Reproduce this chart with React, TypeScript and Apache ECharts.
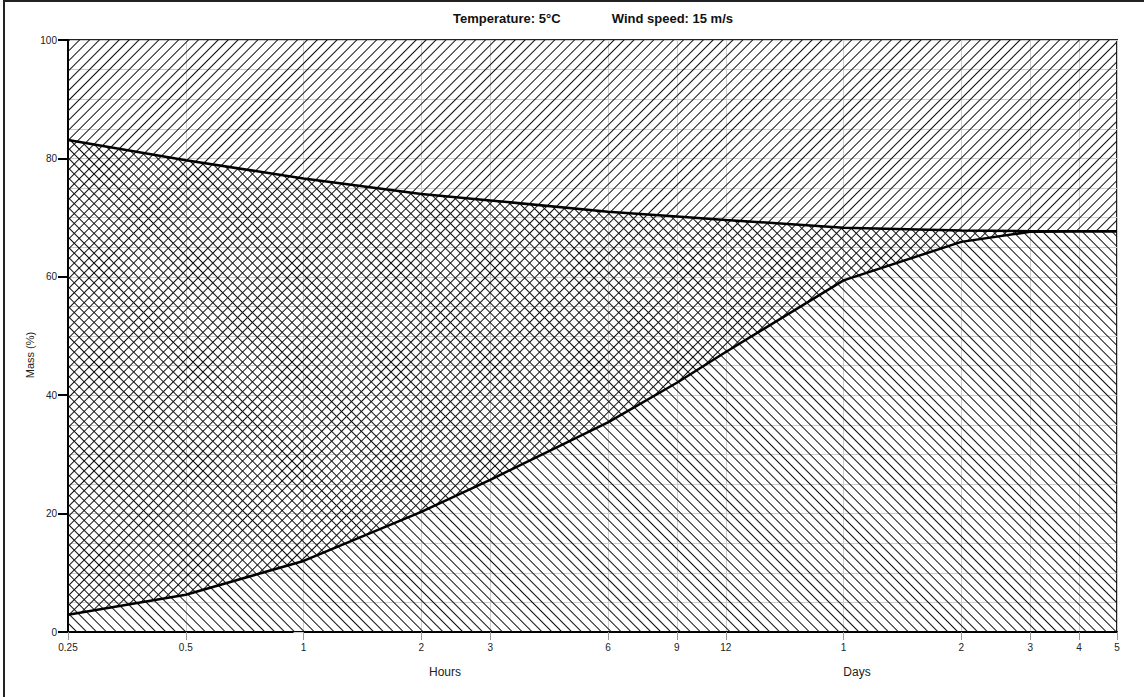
import React, { useEffect, useRef } from 'react';
import * as echarts from 'echarts';

// Elapsed time in hours (x), mass in percent (y)
const hours = [0.25, 0.5, 1, 2, 3, 6, 9, 12, 24, 48, 72, 96, 120];
const upperMass = [83.1, 79.7, 76.6, 74.0, 72.9, 71.0, 70.2, 69.6, 68.3, 67.8, 67.7, 67.7, 67.7];
const lowerMass = [2.9, 6.3, 12.0, 20.3, 25.7, 35.4, 42.1, 47.3, 59.4, 65.9, 67.6, 67.7, 67.7];
const tickHours = [0.25, 0.5, 1, 2, 3, 6, 9, 12, 24, 48, 72, 96, 120];
const titleLeft = 'Temperature: 5°C';
const titleRight = 'Wind speed: 15 m/s';

const FONT = '"Liberation Sans", Arial, sans-serif';

function hatch(rotation: number) {
  return {
    symbol: 'rect',
    symbolSize: 1,
    color: '#111',
    backgroundColor: 'rgba(0,0,0,0)',
    dashArrayX: [1, 0],
    dashArrayY: [1, 6],
    rotation,
  };
}

export default function App() {
  const ref = useRef<HTMLDivElement>(null);
  useEffect(() => {
    const chart = echarts.init(ref.current!, null, { renderer: 'svg' });
    const lx = (h: number) => Math.log2(h);
    const upperData = hours.map((h, i) => [lx(h), upperMass[i]]);
    const lowerData = hours.map((h, i) => [lx(h), lowerMass[i]]);
    const tickVals = tickHours.map(lx);
    const fmtX = (v: number) => {
      const h = Math.round(Math.pow(2, v) * 100) / 100;
      return h < 24 ? String(h) : String(Math.round(h / 24));
    };
    const slash = hatch(-Math.PI / 4);
    const back = hatch(Math.PI / 4);

    chart.setOption({
      animation: false,
      backgroundColor: '#fff',
      grid: {
        left: 68,
        right: 27,
        top: 40,
        bottom: 65,
        show: true,
        borderColor: '#222',
        borderWidth: 2,
        backgroundColor: 'rgba(0,0,0,0)',
      },
      xAxis: {
        type: 'value',
        min: lx(0.25),
        max: lx(120),
        axisLine: { show: true, onZero: false, lineStyle: { color: '#000', width: 2 } },
        axisTick: { show: true, customValues: tickVals, length: 8, lineStyle: { color: '#999' } },
        axisLabel: {
          customValues: tickVals,
          formatter: fmtX,
          fontSize: 10,
          color: '#222',
          margin: 10,
          fontFamily: FONT,
        },
        splitLine: { show: true, lineStyle: { color: '#ccc', width: 1 } },
      },
      yAxis: [
        {
          type: 'value',
          min: 0,
          max: 100,
          interval: 5,
          position: 'left',
          axisLine: { show: false },
          axisTick: { show: true, length: 10, lineStyle: { color: '#ccc' } },
          axisLabel: { show: false },
          splitLine: { show: true, lineStyle: { color: '#ccc', width: 1 } },
        },
        {
          type: 'value',
          min: 0,
          max: 100,
          interval: 20,
          position: 'left',
          axisLine: { show: true, onZero: false, lineStyle: { color: '#000', width: 2 } },
          axisTick: { show: true, length: 10, lineStyle: { color: '#000', width: 2 } },
          axisLabel: { fontSize: 10, color: '#222', margin: 11, fontFamily: FONT },
          splitLine: { show: false },
        },
      ],
      series: [
        {
          type: 'line',
          data: lowerData,
          yAxisIndex: 0,
          showSymbol: false,
          silent: true,
          lineStyle: { width: 0, decal: slash },
          itemStyle: { decal: slash },
          areaStyle: { origin: 'end', color: 'rgba(255,255,255,0.001)', opacity: 1 },
          z: 2,
        },
        {
          type: 'line',
          data: upperData,
          yAxisIndex: 0,
          showSymbol: false,
          silent: true,
          lineStyle: { width: 0, decal: back },
          itemStyle: { decal: back },
          areaStyle: { origin: 'start', color: 'rgba(255,255,255,0.001)', opacity: 1 },
          z: 2,
        },
        {
          type: 'line',
          data: upperData,
          yAxisIndex: 0,
          showSymbol: false,
          silent: true,
          lineStyle: { width: 2.5, color: '#000' },
          z: 5,
        },
        {
          type: 'line',
          data: lowerData,
          yAxisIndex: 0,
          showSymbol: false,
          silent: true,
          lineStyle: { width: 2.5, color: '#000' },
          z: 5,
        },
      ],
      graphic: [
        {
          type: 'rect',
          shape: { x: 4, y: 1, width: 1400, height: 900 },
          style: { fill: 'none', stroke: '#222', lineWidth: 2 },
          silent: true,
        },
        {
          type: 'text',
          x: 453,
          y: 18,
          style: { text: titleLeft, font: 'bold 13px ' + FONT, fill: '#111', textVerticalAlign: 'middle' },
        },
        {
          type: 'text',
          x: 733,
          y: 18,
          style: { text: titleRight, font: 'bold 13px ' + FONT, fill: '#111', textAlign: 'right', textVerticalAlign: 'middle' },
        },
        {
          type: 'text',
          x: 30,
          y: 355,
          rotation: Math.PI / 2,
          style: { text: 'Mass (%)', font: '11px ' + FONT, fill: '#222', textAlign: 'center', textVerticalAlign: 'middle' },
        },
        {
          type: 'text',
          x: 445,
          y: 672,
          style: { text: 'Hours', font: '12px ' + FONT, fill: '#222', textAlign: 'center', textVerticalAlign: 'middle' },
        },
        {
          type: 'text',
          x: 857,
          y: 672,
          style: { text: 'Days', font: '12px ' + FONT, fill: '#222', textAlign: 'center', textVerticalAlign: 'middle' },
        },
      ],
    });
    return () => chart.dispose();
  }, []);
  return (
    <div
      ref={ref}
      style={{ position: 'fixed', left: 0, top: 0, width: 1144, height: 697, background: '#fff' }}
    />
  );
}
